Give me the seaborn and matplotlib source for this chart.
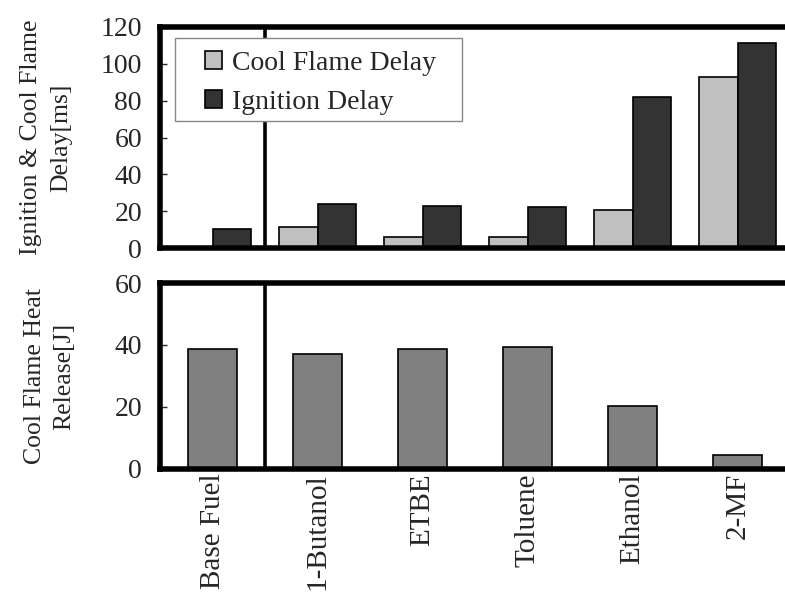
import matplotlib
matplotlib.use("Agg")
import matplotlib.pyplot as plt
from matplotlib.patches import Rectangle
import seaborn as sns
import pandas as pd

fuels = ["Base Fuel", "1-Butanol", "ETBE", "Toluene", "Ethanol", "2-MF"]
cool_flame_delay = [0.0, 11.5, 6.0, 6.0, 20.5, 93.0]
ignition_delay = [10.5, 24.0, 23.0, 22.0, 82.0, 111.5]
heat_release = [38.6, 37.0, 38.6, 39.3, 20.4, 4.5]
series_names = ["Cool Flame Delay", "Ignition Delay"]

delay_df = pd.DataFrame({
    "fuel": fuels * 2,
    "delay": cool_flame_delay + ignition_delay,
    "kind": [series_names[0]] * len(fuels) + [series_names[1]] * len(fuels),
})
heat_df = pd.DataFrame({"fuel": fuels, "heat": heat_release})

sns.set_theme(style="white")
plt.rcParams["font.family"] = ["Liberation Serif", "DejaVu Serif"]
plt.rcParams["font.size"] = 18

W, H = 785, 596
fig = plt.figure(figsize=(W / 100, H / 100), dpi=100)

def px_axes(left, top, right, bottom):
    return fig.add_axes([left / W, 1 - bottom / H, (right - left) / W, (bottom - top) / H])

ax1 = px_axes(160, 27, 790, 248)
ax2 = px_axes(160, 283, 790, 469)

sns.barplot(data=delay_df, x="fuel", y="delay", hue="kind",
            palette=["#c0c0c0", "#333333"], width=0.74, gap=0,
            edgecolor="black", linewidth=1.2, ax=ax1, zorder=2)
sns.barplot(data=heat_df, x="fuel", y="heat", color="#808080",
            width=0.47, edgecolor="black", linewidth=1.2, ax=ax2, zorder=2,
            saturation=1)

for ax, ymax, step in [(ax1, 120, 20), (ax2, 60, 20)]:
    ax.set_xlim(-0.5, 5.5)
    ax.set_ylim(0, ymax)
    ax.set_yticks(range(0, ymax + 1, step))
    ax.tick_params(axis="y", direction="in", length=5, width=1, labelsize=20, pad=13, left=True)
    ax.tick_params(axis="x", length=0)
    for side in ["top", "bottom", "left"]:
        ax.spines[side].set_linewidth(4)
        ax.spines[side].set_color("black")
        ax.spines[side].set_zorder(3)
    ax.spines["right"].set_visible(False)
    ax.axvline(0.5, color="black", linewidth=2.6, zorder=1)
    ax.set_xlabel("")

ax1.set_xticklabels([])
ax2.set_xticks(range(len(fuels)))
ax2.set_xticklabels(fuels, rotation=90, fontsize=21, va="top")
ax2.tick_params(axis="x", pad=3)

ax1.set_ylabel("Ignition & Cool Flame\nDelay[ms]", fontsize=18.5, linespacing=1.45)
ax1.yaxis.set_label_coords(-0.14, 0.5)
ax2.set_ylabel("Cool Flame Heat\nRelease[J]", fontsize=18.5, linespacing=1.45)
ax2.yaxis.set_label_coords(-0.134, 0.5)

# legend frame drawn as a separate box so its padding can be set per side
box_l, box_t, box_r, box_b = 175, 38, 462, 121
frame = Rectangle((box_l / W, 1 - box_b / H), (box_r - box_l) / W, (box_b - box_t) / H,
                  transform=fig.transFigure, facecolor="white", edgecolor="#888888",
                  linewidth=1, zorder=4)
ax1.add_patch(frame)
frame.set_clip_on(False)

handles, labels = ax1.get_legend_handles_labels()
leg = ax1.legend(handles, labels, loc="upper left",
                 bbox_to_anchor=((205 - 160) / 630, (248 - 51) / 221),
                 borderaxespad=0, borderpad=0, frameon=False, fontsize=20,
                 handlelength=0.61, handleheight=0.61, handletextpad=0.36,
                 labelspacing=0.5)
leg.set_zorder(5)

fig.savefig("out.png", dpi=100)
